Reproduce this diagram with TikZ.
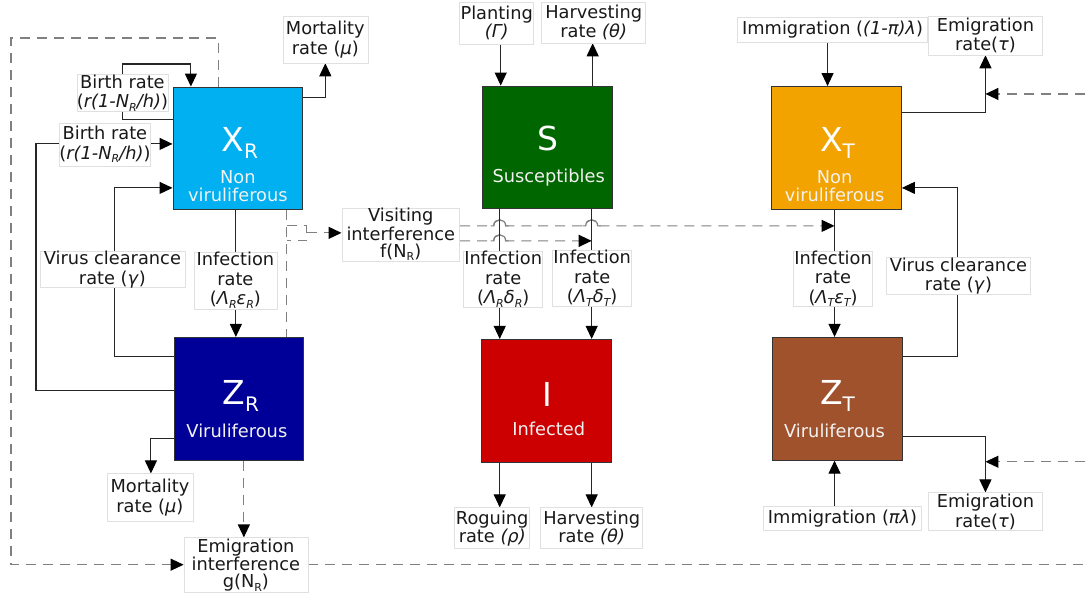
\documentclass[tikz,border=0pt]{standalone}
\usepackage{fontspec}
\setmainfont{DejaVu Sans}
\usetikzlibrary{arrows.meta,backgrounds}
\newcommand\sbs[1]{\raisebox{-0.35ex}{\fontsize{11}{11}\selectfont #1}}
\newcommand\bsub[1]{\raisebox{-7pt}{\fontsize{20}{20}\selectfont #1}}
\newcommand\lfont{\fontsize{17.8}{19.5}\selectfont}
\newcommand\lfontt{\fontsize{17.8}{17}\selectfont}
\definecolor{xrc}{RGB}{0,176,240}
\definecolor{zrc}{RGB}{0,0,153}
\definecolor{sc}{RGB}{0,102,0}
\definecolor{ic}{RGB}{204,0,0}
\definecolor{xtc}{RGB}{242,163,0}
\definecolor{ztc}{RGB}{160,82,45}
\begin{document}
\begin{tikzpicture}[x=1pt,y=-1pt,
  comp/.style={draw=black!80, line width=0.8pt, minimum width=130pt, minimum height=123pt, inner sep=0pt},
  lbl/.style={draw=black!12, fill=white, line width=0.6pt, inner sep=0pt, align=center, font=\lfont, text=black!90},
  tight/.style={font=\lfontt},
  big/.style={text=white, font=\fontsize{33}{33}\selectfont, inner sep=0pt, anchor=base},
  subt/.style={text=white!95!black, font=\lfont, inner sep=0pt, anchor=base},
  line/.style={draw=black!85, line width=1.1pt},
  flow/.style={line, -{Triangle[length=13pt,width=12pt,color=black]}},
  dline/.style={draw=black!50, line width=1.2pt, dash pattern=on 10pt off 7pt},
  hop/.style={draw=black!50, line width=1.2pt},
  dflow/.style={dline, -{Triangle[length=13pt,width=12pt,color=black]}}
]
\begin{pgfonlayer}{background}
\path[use as bounding box, fill=white] (0,0) rectangle (1086,596);
\end{pgfonlayer}

% compartments
\node[comp, fill=xrc] (XR) at (238,148.5) {};
\node[comp, fill=zrc] (ZR) at (239,399) {};
\node[comp, fill=sc]  (S)  at (547.5,147.5) {};
\node[comp, fill=ic]  (I)  at (546.5,401) {};
\node[comp, fill=xtc] (XT) at (837,148) {};
\node[comp, fill=ztc] (ZT) at (838,399) {};

\node[big] (XRa) at (240,152) {X\bsub{R}};
\node[subt] (XRb) at (238,184) {Non};
\node[subt] (XRc) at (238,202) {viruliferous};
\node[big] (ZRa) at (241,405) {Z\bsub{R}};
\node[subt] (ZRb) at (237,438) {Viruliferous};
\node[big] (Sa) at (548,151) {S};
\node[subt] (Sb) at (549,183) {Susceptibles};
\node[big] (Ia) at (548,407) {I};
\node[subt] (Ib) at (549,436) {Infected};
\node[big] (XTa) at (838,152) {X\bsub{T}};
\node[subt] (XTb) at (835,184) {Non};
\node[subt] (XTc) at (835,202) {viruliferous};
\node[big] (ZTa) at (838,405) {Z\bsub{T}};
\node[subt] (ZTb) at (835,438) {Viruliferous};

% labels
\node[lbl, minimum width=85, minimum height=47] (mortT) at (325.5,39.5) {Mortality\\rate (\textit{μ})};
\node[lbl, minimum width=91, minimum height=36] (birth1) at (122.5,93) {Birth rate\\(\textit{r(1-N\sbs{R}/h)})};
\node[lbl, minimum width=86, minimum height=43] (birth2) at (105,144.5) {Birth rate\\(\textit{r(1-N\sbs{R}/h)})};
\node[lbl, minimum width=145, minimum height=35] (vcR) at (112.5,269.5) {Virus clearance\\rate (\textit{γ})};
\node[lbl, minimum width=83, minimum height=57] (infR) at (235.5,280.5) {Infection\\rate\\(\textit{Λ\sbs{R}ε\sbs{R}})};
\node[lbl, minimum width=86, minimum height=48] (mortB) at (150,498) {Mortality\\rate (\textit{μ})};
\node[lbl, tight, minimum width=124, minimum height=55] (emigI) at (246,565.5) {Emigration\\interference\\g(N\sbs{R})};
\node[lbl, tight, minimum width=118, minimum height=53] (visI) at (401,234.5) {Visiting\\interference\\f(N\sbs{R})};
\node[lbl, tight, minimum width=74, minimum height=42] (plant) at (497,23) {Planting\\\textit{(Γ)}};
\node[lbl, tight, minimum width=104, minimum height=41] (harvT) at (594,22.5) {Harvesting\\rate \textit{(θ)}};
\node[lbl, minimum width=79, minimum height=53] (infSR) at (503.5,279.5) {Infection\\rate\\(\textit{Λ\sbs{R}δ\sbs{R}})};
\node[lbl, minimum width=79, minimum height=51] (infST) at (592.5,278.5) {Infection\\rate\\(\textit{Λ\sbs{T}δ\sbs{T}})};
\node[lbl, tight, minimum width=75, minimum height=41] (rog) at (492.5,528.5) {Roguing\\rate \textit{(ρ)}};
\node[lbl, tight, minimum width=102, minimum height=41] (harvB) at (592,528.5) {Harvesting\\rate \textit{(θ)}};
\node[lbl, minimum width=190, minimum height=25] (immT) at (833,29.5) {Immigration (\textit{(1-π)λ})};
\node[lbl, minimum width=114, minimum height=39] (emigT) at (986,35.5) {Emigration\\rate(\textit{τ})};
\node[lbl, minimum width=79, minimum height=52] (infT) at (833.5,279) {Infection\\rate\\(\textit{Λ\sbs{T}ε\sbs{T}})};
\node[lbl, minimum width=144, minimum height=34] (vcT) at (959,276) {Virus clearance\\rate (\textit{γ})};
\node[lbl, minimum width=114, minimum height=38] (emigB) at (986,512) {Emigration\\rate(\textit{τ})};
\node[lbl, minimum width=158, minimum height=24] (immB) at (843,519) {Immigration (\textit{πλ})};

\coordinate (edgeA) at (1086,94);
\coordinate (edgeB) at (1086,462);
\coordinate (edgeC) at (1086,565);
\coordinate (hitA) at (986,94);
\coordinate (hitB) at (986,462);
\coordinate (hitT) at (835,226);
\coordinate (hitS) at (592,241);

\begin{pgfonlayer}{background}
% R side
\draw[flow] (XR.east |- 0,98) -| (mortT.south);
\draw[flow] (XR.west |- 0,120) -| (123,64) -| (XR.north -| 191,0);
\draw[flow] (ZR.west |- 0,391) -| (36,144) -- (XR.west |- 0,144);
\draw[flow] (ZR.west |- 0,357) -| (115,188) -- (XR.west |- 0,188);
\draw[flow] (XR.south -| 236,0) -- (ZR.north -| 236,0);
\draw[flow] (ZR.west |- 0,439) -| (mortB.north -| 151,0);
\draw[dflow] (ZR.south -| 244,0) -- (emigI.north -| 244,0);
\draw[dflow] (XR.north -| 219,0) -- (219,38) -- (11,38) -- (11,565) -- (emigI.west |- 0,565);
\draw[dline] (emigI.east |- 0,565) -- (edgeC);
\draw[dline] (XR.south -| 287,0) -- (ZR.north -| 287,0);
\draw[dline] (287,226) -- (307,226) -- (307,241) -- (287,241);
\draw[dflow] (307,233) -- (visI.west |- 0,233);
\draw[dflow] (visI.east |- 0,226) -- (494,226) .. controls (494,218) and (506,218) .. (506,226)
   -- (586,226) .. controls (586,218) and (598,218) .. (598,226) -- (hitT);
\draw[dflow] (visI.east |- 0,241) -- (494,241) .. controls (494,233) and (506,233) .. (506,241) -- (hitS);
\draw[hop] (491,226) -- (494,226) .. controls (494,218) and (506,218) .. (506,226) -- (509,226);
\draw[hop] (583,226) -- (586,226) .. controls (586,218) and (598,218) .. (598,226) -- (601,226);
\draw[hop] (491,241) -- (494,241) .. controls (494,233) and (506,233) .. (506,241) -- (509,241);
% S / I
\draw[flow] (plant.south -| 501,0) -- (S.north -| 501,0);
\draw[flow] (S.north -| 593,0) -- (harvT.south -| 593,0);
\draw[flow] (S.south -| 500,0) -- (I.north -| 500,0);
\draw[flow] (S.south -| 592,0) -- (I.north -| 592,0);
\draw[flow] (I.south -| 500,0) -- (rog.north -| 500,0);
\draw[flow] (I.south -| 592,0) -- (harvB.north -| 592,0);
% T side
\draw[flow] (immT.south -| 828,0) -- (XT.north -| 828,0);
\draw[flow] (XT.east |- 0,113) -| (emigT.south -| 986,0);
\draw[dflow] (edgeA) -- (hitA);
\draw[flow] (XT.south -| 835,0) -- (ZT.north -| 835,0);
\draw[flow] (ZT.east |- 0,357) -| (958,188) -- (XT.east |- 0,188);
\draw[flow] (ZT.east |- 0,437) -| (emigB.north -| 986,0);
\draw[dflow] (edgeB) -- (hitB);
\draw[flow] (immB.north -| 835,0) -- (ZT.south -| 835,0);
\end{pgfonlayer}
\end{tikzpicture}
\end{document}
